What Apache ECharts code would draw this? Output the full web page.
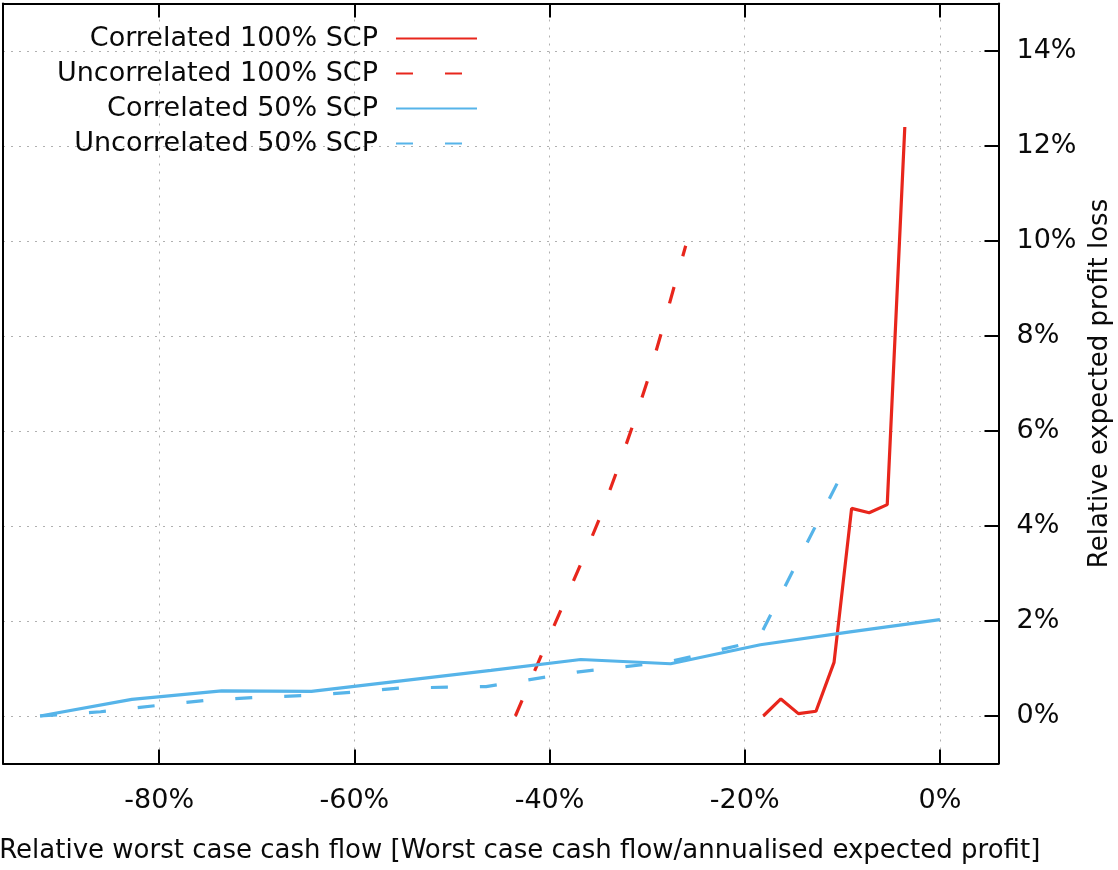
<!DOCTYPE html>
<html><head><meta charset="utf-8">
<script src="https://cdn.jsdelivr.net/npm/echarts@6/dist/echarts.min.js"></script>
<style>html,body{margin:0;padding:0;background:#fff}#c{width:1118px;height:870px}</style>
</head><body><div id="c"></div>
<script>
const seriesNames = ['Correlated 100% SCP', 'Uncorrelated 100% SCP', 'Correlated 50% SCP', 'Uncorrelated 50% SCP'];

const corr100X = [-18.1, -16.3, -14.5, -12.7, -10.85, -9.05, -7.25, -5.4, -3.6];
const corr100Y = [0.0, 0.36, 0.05, 0.1, 1.13, 4.37, 4.28, 4.45, 12.4];

const uncorr100X = [-43.5, -40.8, -38.8, -36.8, -34.9, -33.2, -31.5, -29.9, -28.5, -27.15, -26.05];
const uncorr100Y = [0, 1.3, 2.25, 3.2, 4.15, 5.1, 6.1, 7.1, 8.1, 9.1, 9.9];

const corr50X = [-92.2, -82.8, -73.6, -64.4, -55.2, -46, -36.8, -27.6, -18.4, -9.2, 0];
const corr50Y = [0, 0.35, 0.53, 0.52, 0.74, 0.96, 1.19, 1.1, 1.5, 1.77, 2.03];

const uncorr50X = [-92.2, -86, -80.3, -75.2, -70.2, -65.2, -60.2, -55.2, -46.5, -37, -27.8, -18.7, -10.4];
const uncorr50Y = [0, 0.09, 0.22, 0.33, 0.39, 0.43, 0.5, 0.59, 0.62, 0.93, 1.14, 1.58, 4.95];

const xTicks = [-80, -60, -40, -20, 0];
const yTicks = [0, 2, 4, 6, 8, 10, 12, 14];
const xTitle = 'Relative worst case cash flow [Worst case cash flow/annualised expected profit]';
const yTitle = 'Relative expected profit loss';

const RED = '#e8261c', BLUE = '#56b4e9';
const zip = (xs, ys) => xs.map((x, i) => [x, ys[i]]);
const FONT = 'DejaVu Sans';
const TXT = '#0a0a0a';
const LW = 3.2;
const gridLine = { show: true, showMinLine: false, showMaxLine: false, lineStyle: { color: '#b0b0b0', width: 1, type: [2, 6] } };
const frame = { show: true, onZero: false, lineStyle: { color: '#000', width: 2 } };
const tick = { show: true, inside: true, length: 14, lineStyle: { color: '#000', width: 2 } };

const chart = echarts.init(document.getElementById('c'), null, { renderer: 'canvas' });
chart.setOption({
  animation: false,
  backgroundColor: '#fff',
  grid: { left: 3, top: 3.5, width: 995.5, height: 760, show: false, containLabel: false, outerBoundsMode: 'none' },
  legend: {
    orient: 'vertical', align: 'right', left: 52, top: 20,
    itemWidth: 81, itemHeight: 14, itemGap: 8,
    itemStyle: { opacity: 0 },
    textStyle: { fontFamily: FONT, fontSize: 27, color: TXT, padding: [0, 13, 0, 0] },
    data: seriesNames
  },
  xAxis: [{
    type: 'value', min: -96, max: 6, splitNumber: 5, position: 'bottom',
    axisLine: frame,
    axisTick: tick,
    axisLabel: { customValues: xTicks, formatter: v => v + '%', margin: 24, fontFamily: FONT, fontSize: 27, color: TXT },
    splitLine: gridLine,
    name: xTitle, nameLocation: 'middle', nameGap: 75,
    nameTextStyle: { fontFamily: FONT, fontSize: 26, color: TXT, padding: [0, 0, 0, 38] }
  }, {
    type: 'value', min: -96, max: 6, splitNumber: 5, position: 'top',
    axisLine: frame,
    axisTick: tick,
    axisLabel: { show: false },
    splitLine: { show: false }
  }],
  yAxis: [{
    type: 'value', min: -1, max: 15, splitNumber: 8, position: 'right',
    axisLine: frame,
    axisTick: tick,
    axisLabel: { customValues: yTicks, formatter: v => v + '%', margin: 18, fontFamily: FONT, fontSize: 27, color: TXT },
    splitLine: gridLine,
    name: yTitle, nameLocation: 'middle', nameRotate: 90, nameGap: 89,
    nameTextStyle: { fontFamily: FONT, fontSize: 26, color: TXT }
  }, {
    type: 'value', min: -1, max: 15, splitNumber: 8, position: 'left',
    axisLine: frame,
    axisTick: { show: false },
    axisLabel: { show: false },
    splitLine: { show: false }
  }],
  series: [
    { name: seriesNames[0], type: 'line', data: zip(corr100X, corr100Y), symbol: 'none', lineStyle: { color: RED, width: LW }, itemStyle: { color: RED } },
    { name: seriesNames[1], type: 'line', data: zip(uncorr100X, uncorr100Y), symbol: 'none', lineStyle: { color: RED, width: LW, type: [17, 32] }, itemStyle: { color: RED } },
    { name: seriesNames[2], type: 'line', data: zip(corr50X, corr50Y), symbol: 'none', lineStyle: { color: BLUE, width: LW }, itemStyle: { color: BLUE } },
    { name: seriesNames[3], type: 'line', data: zip(uncorr50X, uncorr50Y), symbol: 'none', lineStyle: { color: BLUE, width: LW, type: [17, 32] }, itemStyle: { color: BLUE } }
  ]
});
</script></body></html>
